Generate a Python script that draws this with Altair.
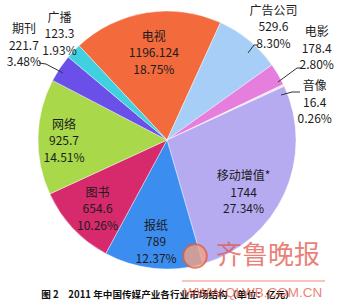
import math
import altair as alt
import pandas as pd

# ---- data ----
categories = ["电视", "广告公司", "电影", "音像", "移动增值*", "报纸", "图书", "网络", "期刊", "广播"]
values = [1196.124, 529.6, 178.4, 16.4, 1744, 789, 654.6, 925.7, 221.7, 123.3]
value_text = ["1196.124", "529.6", "178.4", "16.4", "1744", "789", "654.6", "925.7", "221.7", "123.3"]
share_text = ["18.75%", "8.30%", "2.80%", "0.26%", "27.34%", "12.37%", "10.26%", "14.51%", "3.48%", "1.93%"]
slice_colors = ["#F36A3D", "#A7CEF6", "#E57EDC", "#F4E4F0", "#B6ABF1",
                "#3C8DF0", "#D62A6C", "#A9D84B", "#6A4FE9", "#40D0DF"]
title_text = "图 2\u20032011 年中国传媒产业各行业市场结构（单位：亿元）"
watermark_text = "齐鲁晚报"
watermark_url = "WWW.QLWB.COM.CN"

# ---- layout ----
W, H = 350, 308
CX, CY, R = 167, 140, 129
START = math.radians(-43)
FONT = "Noto Sans CJK SC"
LINE_H = 16.5

# label placement: radius from centre at slice mid-angle, plus small nudges
label_layout = {
    "电视": (88, 1, 0),
    "广告公司": (155, 8, 7),
    "电影": (175, -1, -2),
    "音像": (152, 10, 27),
    "移动增值*": (93, -8, 14),
    "报纸": (103, 0, 0),
    "图书": (98, 2, 2),
    "网络": (103, 0, 4),
    "期刊": (171, -1, 1),
    "广播": (151, 2, -2),
}

# leader line segments (pixel layout)
leaders = pd.DataFrame({
    "x":  [39, 46, 248, 254, 278, 297, 281, 292],
    "y":  [63, 64, 53, 45, 82, 68, 95, 92],
    "x2": [46, 63, 254, 257, 297, 301, 292, 300],
    "y2": [64, 73, 45, 45, 68, 68, 92, 92],
})

total = sum(values)
df = pd.DataFrame({
    "idx": list(range(len(categories))),
    "cat": categories,
    "value": values,
    "label": [f"{c}\n{v}\n{s}" for c, v, s in zip(categories, value_text, share_text)],
})

theta_scale = alt.Scale(domain=[0, total], range=[START, START + 2 * math.pi])
color_scale = alt.Scale(domain=categories, range=slice_colors)

base = (
    alt.Chart(df)
    .transform_window(cum="sum(value)", sort=[alt.SortField("idx")])
    .transform_calculate(start="datum.cum - datum.value", mid="datum.cum - datum.value / 2")
)

arcs = base.mark_arc(radius=R, stroke="white", strokeWidth=0.4).encode(
    theta=alt.Theta("start:Q", scale=theta_scale),
    theta2="cum:Q",
    color=alt.Color("cat:N", scale=color_scale, legend=None),
    x=alt.value(CX),
    y=alt.value(CY),
)

leader_layer = alt.Chart(leaders).mark_rule(color="#333333", strokeWidth=1).encode(
    x=alt.X("x:Q", scale=None),
    y=alt.Y("y:Q", scale=None),
    x2="x2:Q",
    y2="y2:Q",
)

label_layers = []
for name, (r, dx, dy) in label_layout.items():
    label_layers.append(
        base.transform_filter(alt.datum.cat == name)
        .mark_text(radius=r, dx=dx, dy=dy - LINE_H, lineBreak="\n", lineHeight=LINE_H,
                   font=FONT, fontSize=12, color="#1c1c1c",
                   align="center", baseline="middle")
        .encode(
            theta=alt.Theta("mid:Q", scale=theta_scale),
            text="label:N",
            x=alt.value(CX),
            y=alt.value(CY),
        )
    )

title_layer = alt.Chart(pd.DataFrame({"t": [title_text]})).mark_text(
    font=FONT, fontSize=9.6, fontWeight="bold", color="#111111",
    align="center", baseline="middle",
).encode(text="t:N", x=alt.value(168), y=alt.value(295))

wm_logo = alt.Chart(pd.DataFrame({"a": [0]})).mark_point(
    filled=True, size=560, color="#F2A285", opacity=0.8, shape="circle",
    stroke="#E3603F", strokeWidth=2,
).encode(x=alt.value(195), y=alt.value(256))

wm_text = alt.Chart(pd.DataFrame({"t": [watermark_text]})).mark_text(
    font=FONT, fontSize=26, fontWeight="normal", color="#E4574A", opacity=0.75,
    align="center", baseline="middle",
).encode(text="t:N", x=alt.value(268), y=alt.value(256))

wm_line = alt.Chart(pd.DataFrame({"a": [0]})).mark_rule(
    color="#E8705A", strokeWidth=1.2, opacity=0.8,
).encode(x=alt.value(182), x2=alt.value(325), y=alt.value(281))

wm_url = alt.Chart(pd.DataFrame({"t": [watermark_url]})).mark_text(
    font="Liberation Sans", fontSize=13.5, color="#E5503C", opacity=0.7,
    align="center", baseline="middle",
).encode(text="t:N", x=alt.value(253), y=alt.value(293))

chart = alt.layer(
    arcs, leader_layer, *label_layers, title_layer, wm_logo, wm_text, wm_line, wm_url
).properties(
    width=W, height=H, padding=0, autosize=alt.AutoSizeParams(type="none")
).configure_view(stroke=None)

chart.save("out.html", embed_options={"renderer": "svg", "actions": False})
